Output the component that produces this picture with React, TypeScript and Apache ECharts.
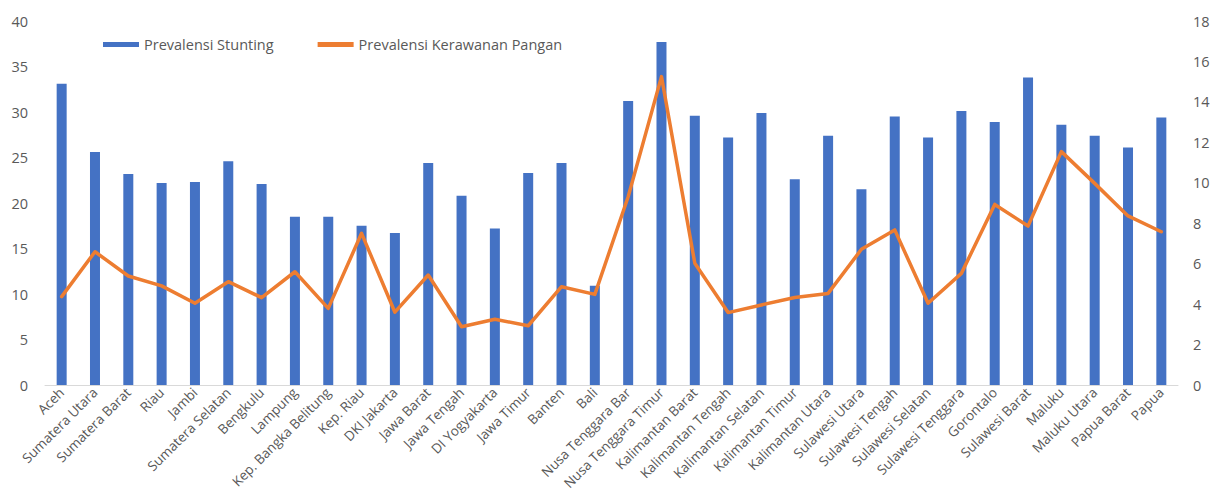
import React, { useEffect, useRef } from "react";
import * as echarts from "echarts";

const provinces = [
  "Aceh", "Sumatera Utara", "Sumatera Barat", "Riau", "Jambi", "Sumatera Selatan",
  "Bengkulu", "Lampung", "Kep. Bangka Belitung", "Kep. Riau", "DKI Jakarta", "Jawa Barat",
  "Jawa Tengah", "DI Yogyakarta", "Jawa Timur", "Banten", "Bali", "Nusa Tenggara Bar",
  "Nusa Tenggara Timur", "Kalimantan Barat", "Kalimantan Tengah", "Kalimantan Selatan",
  "Kalimantan Timur", "Kalimantan Utara", "Sulawesi Utara", "Sulawesi Tengah",
  "Sulawesi Selatan", "Sulawesi Tenggara", "Gorontalo", "Sulawesi Barat", "Maluku",
  "Maluku Utara", "Papua Barat", "Papua",
];

const stunting = [
  33.1, 25.6, 23.2, 22.2, 22.3, 24.6, 22.1, 18.5, 18.5, 17.5, 16.7, 24.4,
  20.8, 17.2, 23.3, 24.4, 10.9, 31.2, 37.7, 29.6, 27.2, 29.9, 22.6, 27.4,
  21.5, 29.5, 27.2, 30.1, 28.9, 33.8, 28.6, 27.4, 26.1, 29.4,
];

const kerawananPangan = [
  4.37, 6.59, 5.39, 4.9, 4.04, 5.11, 4.32, 5.6, 3.79, 7.5, 3.6, 5.44,
  2.88, 3.25, 2.93, 4.86, 4.48, 9.31, 15.25, 6.02, 3.58, 3.96, 4.33, 4.53,
  6.71, 7.67, 4.04, 5.52, 8.93, 7.86, 11.54, 9.97, 8.36, 7.58,
];

const FONT = "'Open Sans', sans-serif";
const TEXT_COLOR = "#595959";

export default function App() {
  const ref = useRef<HTMLDivElement>(null);

  useEffect(() => {
    if (!ref.current) return;
    const chart = echarts.init(ref.current, undefined, { renderer: "svg" });
    chart.setOption({
      animation: false,
      textStyle: { fontFamily: FONT },
      legend: {
        left: 98,
        top: 32,
        itemWidth: 36,
        itemHeight: 5,
        itemGap: 44,
        textStyle: { color: TEXT_COLOR, fontSize: 14.5, fontFamily: FONT },
        data: [
          { name: "Prevalensi Stunting", icon: "rect" },
          { name: "Prevalensi Kerawanan Pangan", icon: "rect" },
        ],
      },
      grid: {
        left: 45,
        right: 33,
        top: 21,
        bottom: 113,
        containLabel: false,
        outerBoundsMode: "none",
      },
      xAxis: {
        type: "category",
        data: provinces,
        axisLine: { lineStyle: { color: "#D9D9D9", width: 1 } },
        axisTick: { show: false },
        axisLabel: {
          rotate: 45,
          interval: 0,
          color: TEXT_COLOR,
          fontSize: 13.5,
          fontFamily: FONT,
          margin: 5,
        },
      },
      yAxis: [
        {
          type: "value",
          min: 0,
          max: 40,
          interval: 5,
          splitLine: { show: false },
          axisLine: { show: false },
          axisTick: { show: false },
          axisLabel: { color: TEXT_COLOR, fontSize: 14.5, fontFamily: FONT, margin: 17 },
        },
        {
          type: "value",
          min: 0,
          max: 18,
          interval: 2,
          splitLine: { show: false },
          axisLine: { show: false },
          axisTick: { show: false },
          axisLabel: { color: TEXT_COLOR, fontSize: 14.5, fontFamily: FONT, margin: 15 },
        },
      ],
      series: [
        {
          name: "Prevalensi Stunting",
          type: "bar",
          data: stunting,
          barWidth: 10,
          itemStyle: { color: "#4472C4" },
        },
        {
          name: "Prevalensi Kerawanan Pangan",
          type: "line",
          yAxisIndex: 1,
          data: kerawananPangan,
          symbol: "none",
          lineStyle: { color: "#ED7D31", width: 3.5, join: "round", cap: "round" },
          itemStyle: { color: "#ED7D31" },
        },
      ],
    });
    return () => chart.dispose();
  }, []);

  return (
    <div
      ref={ref}
      style={{ position: "fixed", left: 0, top: 0, width: 1211, height: 498, background: "#fff" }}
    />
  );
}
